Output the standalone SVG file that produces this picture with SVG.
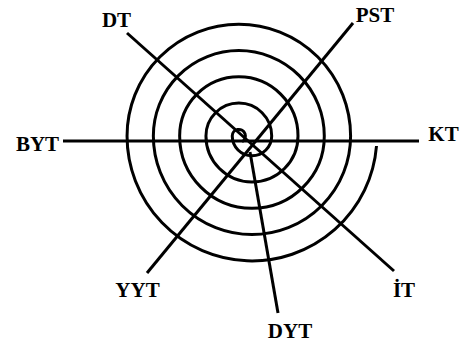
<svg xmlns="http://www.w3.org/2000/svg" width="464" height="350" viewBox="0 0 464 350">
  <style>
    .lbl { font-family: "Liberation Serif", "Times New Roman", serif; font-weight: bold; font-size: 21px; fill: #000; text-anchor: middle; }
    .ln { stroke: #000; stroke-width: 3; fill: none; stroke-linecap: butt; }
  </style>
  <rect x="0" y="0" width="464" height="350" fill="#fff"/>
  <g id="spiral">
    <path class="ln" d="M242.1 141.7 A6.575 6.575 0 1 0 232.25 136 A19.725 19.725 0 0 0 271.7 136 A32.875 32.875 0 0 0 205.95 136 A46.025 46.025 0 0 0 298 136 A59.175 59.175 0 0 0 179.65 136 A72.325 72.325 0 0 0 324.3 136 A85.475 85.475 0 0 0 153.35 136 A98.625 98.625 0 0 0 350.6 136 A111.775 111.775 0 0 0 127.05 136 A124.925 124.925 0 0 0 376.5 146"/>
  </g>
  <g id="connectors">
    <line class="ln" x1="63" y1="141" x2="419" y2="141"/>
    <line class="ln" x1="127" y1="33" x2="394" y2="271"/>
    <line class="ln" x1="353" y1="23" x2="147" y2="273"/>
    <line class="ln" x1="250" y1="152" x2="278" y2="313"/>
  </g>
  <g id="node-DT"><text class="lbl" x="116.5" y="27">DT</text></g>
  <g id="node-PST"><text class="lbl" x="375" y="22">PST</text></g>
  <g id="node-BYT"><text class="lbl" x="37.5" y="151">BYT</text></g>
  <g id="node-KT"><text class="lbl" x="443.5" y="141">KT</text></g>
  <g id="node-YYT"><text class="lbl" x="137.5" y="297">YYT</text></g>
  <g id="node-IT"><text class="lbl" x="404" y="297">İT</text></g>
  <g id="node-DYT"><text class="lbl" x="290" y="338">DYT</text></g>
</svg>
